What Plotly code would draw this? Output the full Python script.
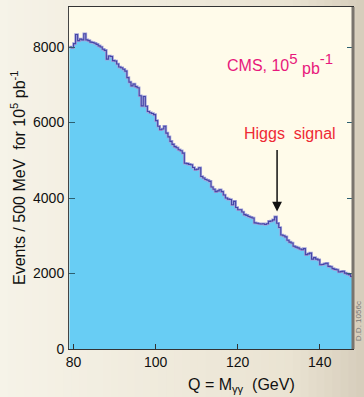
import plotly.graph_objects as go

# Histogram: 0.5 GeV bins from 79 to 148 GeV
bin_start = 79.0
bin_width = 0.5
events = [
    8000, 7980, 8090, 8330, 8170, 8210, 8190, 8350, 8190, 8170,
    8130, 8120, 8100, 8070, 8030, 8000, 7940, 7910, 7680, 7760,
    7750, 7640, 7630, 7550, 7470, 7450, 7410, 7360, 7190, 7070,
    6970, 7020, 6950, 6920, 6710, 6440, 6690, 6430, 6290, 6260,
    6240, 6210, 6050, 5900, 5810, 5830, 5900, 5720, 5620, 5500,
    5420, 5360, 5330, 5280, 5250, 5190, 4920, 4910, 4890, 4880,
    4810, 4750, 4760, 4800, 4570, 4530, 4490, 4470, 4440, 4290,
    4230, 4170, 4190, 4220, 4170, 4080, 4000, 3970, 3960, 3820,
    3910, 3750, 3690, 3690, 3630, 3560, 3540, 3510, 3490, 3470,
    3340, 3330, 3320, 3310, 3320, 3300, 3320, 3380, 3390, 3420,
    3500, 3330, 3220, 3020, 3000, 2970, 2880, 2830, 2810, 2720,
    2700, 2680, 2650, 2630, 2660, 2500, 2520, 2540, 2380, 2420,
    2380, 2360, 2230, 2240, 2260, 2270, 2190, 2180, 2130, 2110,
    2100, 2040, 2050, 2060, 2010, 1990, 1970, 1920,
]
x_ticks = [80, 100, 120, 140]
y_ticks = [0, 2000, 4000, 6000, 8000]
higgs_mass = 129.6

edges = [bin_start + i * bin_width for i in range(len(events) + 1)]
xs = edges
ys = events + [events[-1]]

W, H = 364, 397
ML, MR, MT, MB = 69, 11, 7, 48
PW, PH = W - ML - MR, H - MT - MB

fig = go.Figure()
fig.add_trace(go.Scatter(
    x=xs, y=ys, mode="lines", line_shape="hv",
    fill="tozeroy", fillcolor="#68cdf4",
    line=dict(color="#a2a2da", width=2.6), hoverinfo="skip", showlegend=False,
))
fig.add_trace(go.Scatter(
    x=xs, y=ys, mode="lines", line_shape="hv",
    line=dict(color="#4646a6", width=1.1), hoverinfo="skip", showlegend=False,
))

font = "Liberation Sans, Arial, sans-serif"

# paper background: horizontal beige gradient (drawn as stripes)
def lerp(c0, c1, t):
    return "#%02x%02x%02x" % tuple(round(a + (b - a) * t) for a, b in zip(c0, c1))

c_left, c_mid, c_right = (246, 243, 232), (234, 227, 210), (214, 205, 187)
shapes = []
n = 46
for i in range(n):
    px0 = W * i / n
    px1 = W * (i + 1) / n + 0.6
    t = (px0 + px1) / 2 / W
    col = lerp(c_left, c_mid, t / 0.8) if t < 0.8 else lerp(c_mid, c_right, (t - 0.8) / 0.2)
    shapes.append(dict(type="rect", xref="paper", yref="paper", layer="below",
                       x0=(px0 - ML) / PW, x1=(px1 - ML) / PW,
                       y0=-MB / PH, y1=1 + MT / PH,
                       line=dict(width=0), fillcolor=col))
shapes.append(dict(type="rect", xref="paper", yref="paper", layer="below",
                   x0=0, x1=1, y0=0, y1=1, line=dict(width=0), fillcolor="#fffbea"))
shapes.append(dict(type="line", xref="paper", yref="paper", x0=1, x1=1, y0=0, y1=1,
                   line=dict(color="#7a756e", width=3)))

fig.update_layout(
    width=W, height=H,
    margin=dict(l=ML, r=MR, t=MT, b=MB),
    paper_bgcolor="#eee8d9",
    plot_bgcolor="#fffbea",
    font=dict(family=font, size=14, color="#111111"),
    xaxis=dict(
        range=[78.9, 148.1], tickvals=x_ticks, ticks="inside", ticklen=5,
        tickcolor="#333333", showline=True, linecolor="#333333", linewidth=1,
        mirror=True, showgrid=False, zeroline=False,
        tickfont=dict(size=14, family=font),
    ),
    yaxis=dict(
        range=[0, 9060], tickvals=y_ticks, ticks="inside", ticklen=6,
        tickcolor="#2c5f70", showline=True, linecolor="#444444", linewidth=1,
        mirror="allticks", showgrid=False, zeroline=False,
        tickfont=dict(size=14, family=font), ticklabelstandoff=1,
    ),
    shapes=shapes,
    annotations=[
        dict(text="Q = M<sub>γγ</sub>  (GeV)", xref="paper", yref="paper",
             x=(241 - ML) / PW, y=-0.072, xanchor="center", yanchor="top", showarrow=False,
             font=dict(size=16, family=font, color="#111111")),
        dict(text="Events / 500 MeV  for 10<sup>5</sup> pb<sup>-1</sup>",
             xref="paper", yref="paper", x=(18 - ML) / PW, y=0.5, textangle=-90,
             xanchor="center", yanchor="middle", showarrow=False,
             font=dict(size=16, family=font, color="#111111")),
        dict(text=("CMS, 10<sup><span style='font-size:15px'>5</span></sup> "
                   "<sub><span style='font-size:16px'>pb</span></sub>"
                   "<sup><span style='font-size:15px'>-1</span></sup>"),
             x=130.3, y=7570, xanchor="center", yanchor="middle", showarrow=False,
             font=dict(size=16, family=font, color="#e8187c")),
        dict(text="Higgs  signal", x=132.8, y=5700, xanchor="center", yanchor="middle",
             showarrow=False, font=dict(size=16, family=font, color="#ee2a35")),
        dict(text="", x=higgs_mass, y=3640, ax=higgs_mass, ay=5310,
             axref="x", ayref="y", showarrow=True, arrowhead=2, arrowsize=1.3,
             arrowwidth=1.5, arrowcolor="#111111"),
        dict(text="D.D. 1056c", xref="paper", yref="paper", x=(358.5 - ML) / PW, y=0.08,
             textangle=-90, xanchor="center", yanchor="middle", showarrow=False,
             font=dict(size=8, family=font, color="#777777")),
    ],
)

fig.write_html("out.html")
